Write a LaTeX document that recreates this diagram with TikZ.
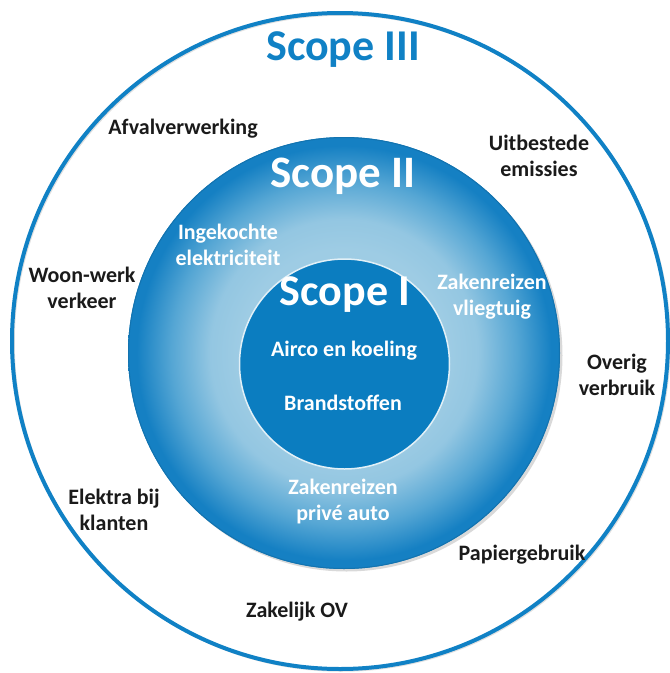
\documentclass[tikz,border=0pt]{standalone}
\usepackage{fontspec}
\setmainfont{Carlito}
\definecolor{ringblue}{HTML}{1081C5}
\definecolor{coreblue}{HTML}{0B7DC0}
\definecolor{lightb}{HTML}{9ECCE4}
\definecolor{midb}{HTML}{55A6D4}
\definecolor{darkb}{HTML}{1580C3}
\definecolor{txtdark}{HTML}{1A1A1A}
\pgfdeclareradialshading{scopetwo}{\pgfpoint{0bp}{0bp}}{%
  color(0bp)=(lightb); color(12bp)=(lightb); color(15.5bp)=(lightb!85!midb);
  color(20bp)=(midb); color(24bp)=(darkb); color(25bp)=(darkb); color(50bp)=(darkb)}
\tikzset{
  lbl/.style={font=\bfseries\fontsize{22}{26}\selectfont, text=txtdark, align=center, inner sep=0pt},
  wlbl/.style={font=\bfseries\fontsize{22}{26}\selectfont, text=white, align=center, inner sep=0pt},
  scopetxt/.style={font=\bfseries\fontsize{44}{48}\selectfont, inner sep=0pt},
}
\begin{document}
\begin{tikzpicture}[x=1pt,y=-1pt]
\useasboundingbox (0,0) rectangle (670,673);
% outer ring (Scope III)
\draw[black!12, line width=2.5pt] (341.5,342.5) circle[radius=328];
\draw[ringblue, line width=4pt] (340,341) circle[radius=328];
% middle disc (Scope II)
\fill[black!15] (346.5,355.5) circle[radius=216];
\shade[shading=scopetwo] (344,353) circle[radius=216];
\draw[darkb!90!black, line width=1pt] (344,353) circle[radius=215.5];
% inner disc (Scope I)
\fill[coreblue] (344.5,364) circle[radius=105];
\draw[white!70!lightb, line width=1.5pt] (344.5,364) circle[radius=105];
% scope titles
\node[scopetxt, text=ringblue] (s3) at (343,50) {Scope III};
\node[scopetxt, text=white, font=\bfseries\fontsize{45}{48}\selectfont] (s2) at (343,176) {Scope II};
\node[scopetxt, text=white] (s1) at (345,295) {Scope I};
% scope III labels
\node[lbl] (afval) at (183,129) {Afvalverwerking};
\node[lbl] (uitb) at (539,156) {Uitbestede\\emissies};
\node[lbl] (woon) at (82,288) {Woon-werk\\verkeer};
\node[lbl] (overig) at (617,375) {Overig\\verbruik};
\node[lbl] (elektra) at (114,510) {Elektra bij\\klanten};
\node[lbl] (papier) at (522,555) {Papiergebruik};
\node[lbl] (zakov) at (297,612) {Zakelijk OV};
% scope II labels
\node[wlbl] (ingek) at (228,245) {Ingekochte\\elektriciteit};
\node[wlbl] (vlieg) at (492,297) {Zakenreizen\\vliegtuig};
\node[wlbl] (prive) at (343,502) {Zakenreizen\\privé auto};
% scope I labels
\node[wlbl] (airco) at (344,351) {Airco en koeling};
\node[wlbl] (brand) at (343,403) {Brandstoffen};
\end{tikzpicture}
\end{document}
